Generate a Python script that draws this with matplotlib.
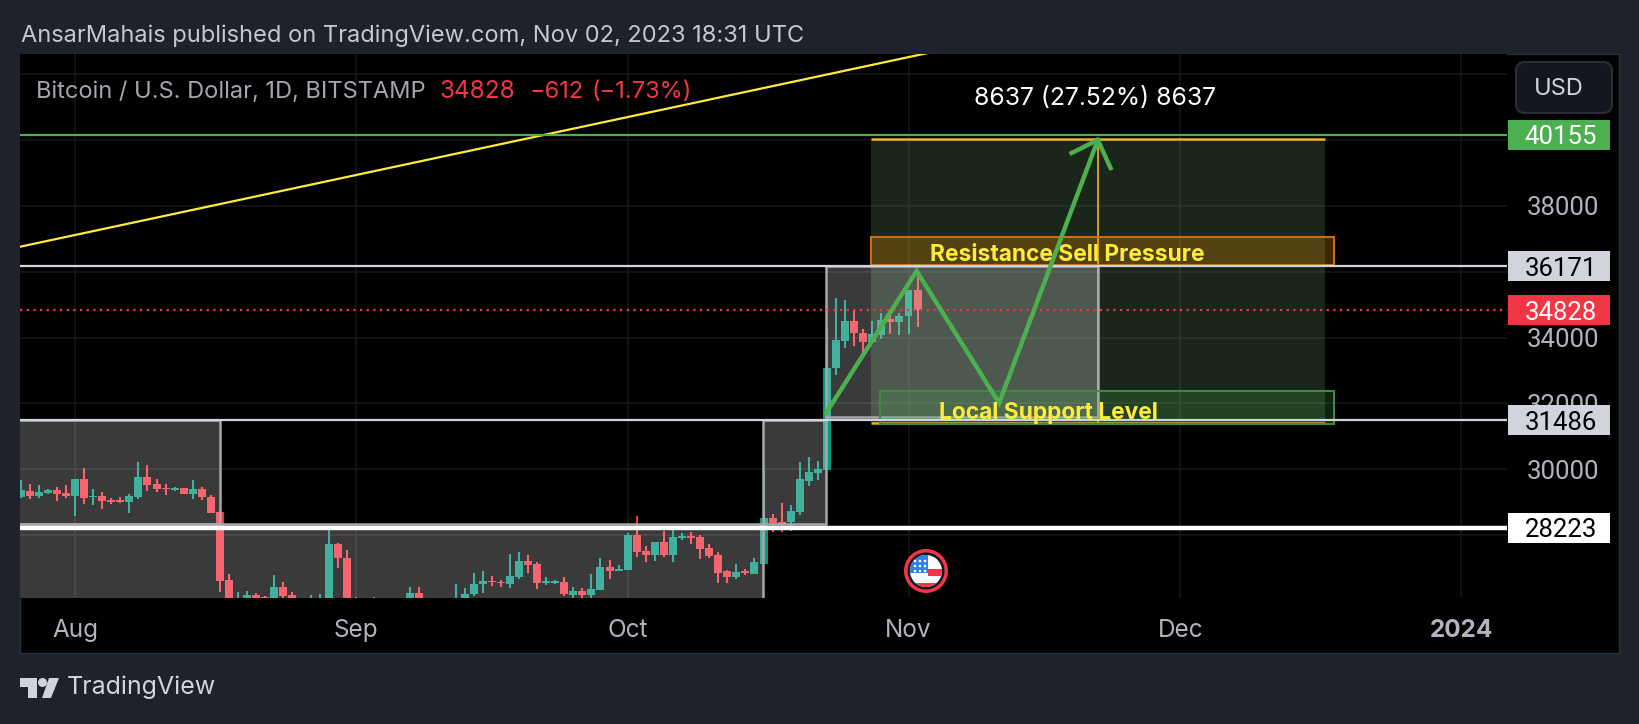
#!/usr/bin/env python
import numpy as np
import matplotlib
matplotlib.use('Agg')
import matplotlib.pyplot as plt
from matplotlib.patches import Rectangle, Circle, Polygon, FancyBboxPatch
from matplotlib.transforms import blended_transform_factory, IdentityTransform

# daily candles, 26 Jul - 2 Nov 2023, day 0 is 1 Aug
opens = [29165, 29336, 29185, 29266, 29367, 29276,
  29185, 29701, 29144, 29185, 29073, 29053, 29002, 29154, 29762, 29549, 29438, 29377, 29428, 29245, 29397, 29154,
  28688, 26632, 26050, 26075, 26176, 26125, 26040, 26419, 26176, 26060, 26010, 26070, 26000, 27726, 27290,
  25950, 25800, 25870, 25970, 25820, 25780, 25750, 26226, 25910, 25900, 25840, 25160, 25840, 26206, 26510,
  26611, 26571, 26510, 26723, 27209, 27118, 26551, 26541, 26571, 26176, 26297, 26176, 26328, 27027, 26905,
  26936, 28000, 27513, 27391, 27787, 27391, 27908, 27969, 27939, 27604, 27391, 26905, 26723, 26895, 26814,
  27118, 28516, 28395, 28395, 28708, 29640, 29883, 29974, 33074, 33895, 34502, 34138, 33874, 34077, 34563, 34472,
  34654, 35440]
closes = [29367, 29185, 29306, 29367, 29245, 29185,
  29701, 29124, 29185, 29033, 28992, 29002, 29185, 29762, 29509, 29397, 29387, 29428, 29245, 29397, 29154, 28668,
  26601, 26050, 26075, 26176, 26070, 26050, 26419, 26145, 26050, 26000, 26070, 26080, 27726, 27290, 25950,
  25800, 25870, 25970, 25820, 25780, 25750, 26226, 25910, 25900, 25840, 25160, 25840, 26206, 26510, 26601,
  26560, 26530, 26753, 27209, 27087, 26541, 26601, 26601, 26206, 26297, 26176, 26358, 27027, 26905, 26966,
  28000, 27483, 27391, 27787, 27391, 27939, 27969, 27908, 27574, 27361, 26845, 26723, 26875, 26834, 27179,
  28516, 28354, 28334, 28729, 29701, 29925, 30005, 33074, 33925, 34502, 34128, 33874, 34107, 34533, 34472, 34654,
  35440, 34828]
highs = [29671, 29549, 29529, 29397, 29468, 29529,
  29701, 30046, 29397, 29316, 29114, 29154, 29245, 30228, 30127, 29711, 29549, 29468, 29428, 29671, 29458, 29225,
  28760, 26814, 26267, 26297, 26226, 26145, 26784, 26581, 26267, 26070, 26176, 26206, 28171, 27766, 27543,
  26105, 25950, 26115, 26000, 25900, 26000, 26429, 26429, 25950, 25990, 25900, 26510, 26399, 26855, 26895,
  26753, 26631, 27422, 27483, 27391, 27179, 26723, 26642, 26723, 26419, 26388, 26814, 27300, 27240, 27087,
  28060, 28577, 27665, 27787, 28121, 28303, 28050, 28090, 28000, 27726, 27483, 26936, 27118, 26966, 27300,
  29974, 28638, 28972, 28911, 30227, 30380, 30258, 34300, 35212, 35141, 34837, 34249, 34502, 34756, 34685, 34735,
  35445, 35951]
lows = [29114, 29083, 29124, 29235, 29022, 29124,
  28577, 28941, 28901, 28779, 28941, 28962, 28658, 29104, 29327, 29306, 29215, 29337, 29245, 29083, 29063, 28668,
  26277, 25700, 25900, 25990, 25850, 25350, 25800, 25850, 25800, 25950, 25970, 25900, 25900, 27006, 25700,
  25350, 25750, 25800, 25600, 25630, 25400, 25650, 25650, 25880, 25580, 24900, 25130, 25770, 26145, 26226,
  26449, 26409, 26378, 26662, 26834, 26358, 26480, 26510, 26145, 26085, 26085, 26090, 26320, 26662, 26905,
  26936, 27341, 27179, 27209, 27341, 27179, 27847, 27726, 27270, 27300, 26540, 26540, 26662, 26784, 26814,
  27118, 28090, 28090, 28121, 28607, 29488, 29670, 29974, 32861, 33672, 33743, 33520, 33874, 33955, 34107, 34077,
  34097, 34310]

month_days = [0, 31, 61, 92, 122, 153]
month_labels = ['Aug', 'Sep', 'Oct', 'Nov', 'Dec', '2024']
price_ticks = [28000, 30000, 32000, 34000, 36000, 38000, 40000, 42000]
price_labels = ['', '30000', '32000', '34000', '', '38000', '', '']

# drawn levels: price, box colour, text colour
levels = [(40155, '#4caf50', 'white'), (36171, '#d1d4dc', 'black'), (34828, '#f23645', 'white'),
  (31486, '#d1d4dc', 'black'), (28223, 'white', 'black')]
# day / price of the hand drawn things
trend_days = [-7, 94]
trend_prices = [36705, 42639]
wave_days = [82.9, 92.9, 102.0, 112.9]
wave_prices = [31707, 36022, 32010, 40003]
barb_days = [110.0, 112.9, 114.3]
barb_prices = [39608, 40003, 39152]
# left, right, top, bottom
gray_boxes = [(-8, 16.0, 31486, 28333), (-8, 75.9, 28333, 24000), (75.9, 82.9, 31486, 28333), (82.9, 112.9, 36171, 31594)]
position = (87.9, 138.0, 40042, 31405)
position_mid = 112.9
orange_box = (87.9, 139.0, 37055, 36204)
green_box = (88.9, 139.0, 32375, 31372)

FONT = 'Inter'
plt.rcParams['font.family'] = [FONT, 'DejaVu Sans']
BG = '#1e222d'
W, H = 1640, 724

fig = plt.figure(figsize=(W/100., H/100.), dpi=100, facecolor=BG)
pane = Rectangle((20./W, 1-653./H), 1599./W, 599./H, transform=fig.transFigure,
  facecolor='black', edgecolor='#2a2e39', linewidth=1, zorder=-1)
fig.patches.append(pane)

ax = fig.add_axes([20./W, 1-598./H, 1487./W, 544./H], facecolor='black')
ax.set_xlim(-6.07, 158.06)
ax.set_ylim(40155-463/0.03291, 40155+81/0.03291)
for s in ax.spines.values():
  s.set_visible(False)
ax.set_axisbelow(True)
ax.yaxis.tick_right()
ax.set_yticks(price_ticks)
ax.set_yticklabels(price_labels, family=['Roboto', 'DejaVu Sans'])
ax.set_xticks(month_days)
ax.set_xticklabels(month_labels)
ax.tick_params(axis='x', length=0, colors='#b2b5be', labelsize=17.5, pad=15)
ax.tick_params(axis='y', length=0, colors='#b2b5be', labelsize=18.5, pad=14)
ax.get_xticklabels()[-1].set_fontweight('bold')
ax.grid(True, color='#151515', linewidth=1.2)

# candles
days = np.arange(-6, 94)
o = np.array(opens)
c = np.array(closes)
up = c >= o
cols = np.where(up, '#089981', '#f23645')
ax.vlines(days, lows, highs, colors=cols, linewidth=1.5, zorder=2)
ax.bar(days, np.abs(c-o), bottom=np.minimum(o, c), width=0.88, color=cols, linewidth=0, zorder=2)

# long position block
x0, x1, top, bot = position
ax.add_patch(Rectangle((x0, bot), x1-x0, top-bot, facecolor='#7fbf7f', alpha=0.2, linewidth=0, zorder=3))
ax.plot([x0, x1], [top, top], color='#f5b324', lw=1.8, zorder=4, solid_capstyle='butt')
ax.plot([x0, x1], [bot, bot], color='#f5b324', lw=1.8, zorder=4, solid_capstyle='butt')
ax.plot([position_mid, position_mid], [bot, top], color='#f5b324', lw=1.2, zorder=4)

# gray ranges go over the candles
for x0, x1, top, bot in gray_boxes:
  ax.add_patch(Rectangle((x0, bot), x1-x0, top-bot, facecolor='white', alpha=0.23, linewidth=0, zorder=5))
  ax.add_patch(Rectangle((x0, bot), x1-x0, top-bot, fill=False, edgecolor='#a8a8a8', linewidth=1.8, zorder=5))

x0, x1, top, bot = orange_box
ax.add_patch(Rectangle((x0, bot), x1-x0, top-bot, facecolor='#ff9800', alpha=0.25, linewidth=0, zorder=6))
ax.add_patch(Rectangle((x0, bot), x1-x0, top-bot, fill=False, edgecolor='#c96e14', linewidth=1.5, zorder=6))
x0, x1, top, bot = green_box
ax.add_patch(Rectangle((x0, bot), x1-x0, top-bot, facecolor='#4caf50', alpha=0.2, linewidth=0, zorder=6))
ax.add_patch(Rectangle((x0, bot), x1-x0, top-bot, fill=False, edgecolor='#3f8a42', linewidth=1.5, zorder=6))

ax.plot(trend_days, trend_prices, color='#ffeb3b', lw=1.6, zorder=6)

# horizontal levels and the price boxes
trans = blended_transform_factory(IdentityTransform(), ax.transData)
for price, col, tcol in levels:
  lw = 1.6
  ls = '-'
  if price == 28223:
    lw = 3.2
  if price == 34828:
    ls = (0, (1, 2))
  ax.axhline(price, color=col, lw=lw, ls=ls, zorder=6)
  ax.add_patch(Rectangle((1508, price-456), 102, 912, transform=trans, facecolor=col, linewidth=0,
    clip_on=False, zorder=9))
  ax.text(1561, price, str(price), transform=trans, color=tcol, fontsize=18.5, ha='center', va='center_baseline',
    family=['Roboto', 'DejaVu Sans'], clip_on=False, zorder=10)

ax.plot(wave_days, wave_prices, color='#4caf50', lw=3.2, zorder=7, solid_joinstyle='miter')
ax.plot(barb_days, barb_prices, color='#4caf50', lw=3.2, zorder=7, solid_joinstyle='miter')

ax.text(109.5, 36500, 'Resistance Sell Pressure', color='#ffeb3b', fontsize=16.4, fontweight='bold',
  ha='center', va='center', zorder=8)
ax.text(107.4, 31700, 'Local Support Level', color='#ffeb3b', fontsize=16.4, fontweight='bold',
  ha='center', va='center', zorder=8)
ax.text(112.6, 41270, '8637 (27.52%) 8637', color='white', fontsize=17.8, ha='center', va='center', zorder=8)

# everything outside the plot, in picture pixels
ov = fig.add_axes([0, 0, 1, 1], facecolor='none')
ov.set_xlim(0, W)
ov.set_ylim(H, 0)
ov.axis('off')

ov.text(21, 36, 'AnsarMahais published on TradingView.com, Nov 02, 2023 18:31 UTC', color='#c5c8d0',
  fontsize=17, va='center')
ov.text(36, 92, 'Bitcoin / U.S. Dollar, 1D, BITSTAMP', color='#a3a6af', fontsize=17, va='center')
ov.text(440, 92, '34828', color='#f23645', fontsize=17.5, va='center')
ov.text(530, 92, '\u2212612', color='#f23645', fontsize=17, va='center')
ov.text(592, 92, '(\u22121.73%)', color='#f23645', fontsize=17, va='center')

ov.add_patch(FancyBboxPatch((1524, 70), 80, 35, boxstyle='round,pad=8,rounding_size=9',
  facecolor='#131722', edgecolor='#2a2e39', linewidth=1.5))
ov.text(1559, 89, 'USD', color='#d1d4dc', fontsize=17, ha='center', va='center')

# tradingview logo
ov.add_patch(Polygon([(20, 678), (37, 678), (37, 698), (28, 698), (28, 687), (20, 687)], facecolor='#d1d4dc', linewidth=0))
ov.add_patch(Circle((42.5, 682.5), 4.5, facecolor='#d1d4dc', linewidth=0))
ov.add_patch(Polygon([(49, 678), (59, 678), (51, 698), (42, 698)], facecolor='#d1d4dc', linewidth=0))
ov.text(67, 687, 'TradingView', color='#d1d4dc', fontsize=18, va='center')

# event flag
fx, fy = 926, 571
ov.add_patch(Circle((fx, fy), 22, facecolor='#f23645', linewidth=0, zorder=3))
ov.add_patch(Circle((fx, fy), 18.5, facecolor='#131722', linewidth=0, zorder=3))
disc = Circle((fx, fy), 16, facecolor='white', linewidth=0, zorder=4)
ov.add_patch(disc)
for px, py, pw, ph, col in [(fx-17, fy+12, 34, 6, '#f23645'), (fx+2, fy-2, 16, 7, '#f23645'),
    (fx-17, fy-17, 19, 19, '#2f80ed')]:
  r = Rectangle((px, py), pw, ph, facecolor=col, linewidth=0, zorder=5)
  ov.add_patch(r)
  r.set_clip_path(disc)
for px in [fx-11, fx-6, fx-1]:
  for py in [fy-10, fy-5, fy]:
    d = Circle((px, py), 1.3, facecolor='white', linewidth=0, zorder=6)
    ov.add_patch(d)

fig.savefig('out.png', dpi=100, facecolor=BG)
